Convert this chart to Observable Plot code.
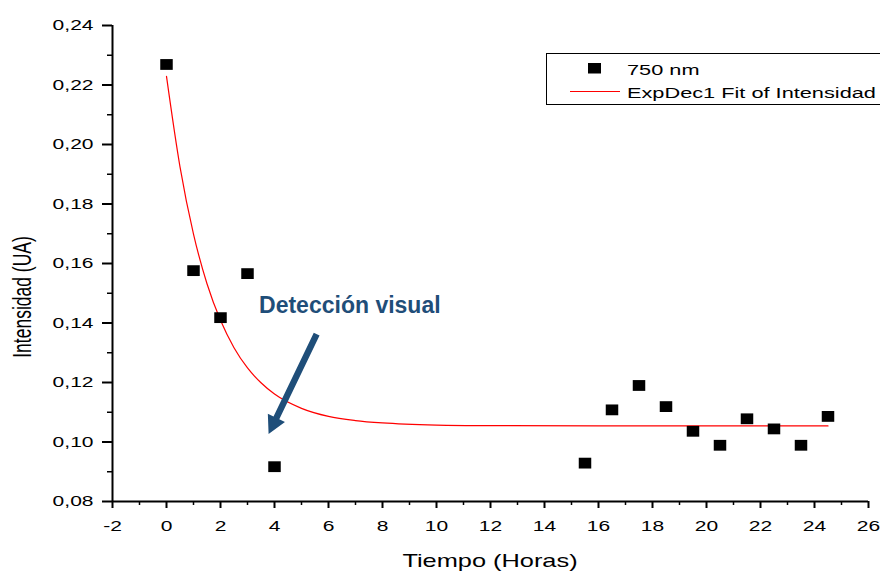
<!DOCTYPE html>
<html><head><meta charset="utf-8">
<script src="https://cdn.jsdelivr.net/npm/d3@7"></script>
<script src="https://cdn.jsdelivr.net/npm/@observablehq/plot@0.6"></script>
<style>
html,body{margin:0;padding:0;background:#fff;overflow:hidden;}
#chart{position:relative;width:880px;height:571px;overflow:hidden;}
</style></head><body><div id="chart"></div>
<script>
// Measured points (750 nm)
const hours = [0, 1, 2, 3, 4, 15.5, 16.5, 17.5, 18.5, 19.5, 20.5, 21.5, 22.5, 23.5, 24.5];
const intensity = [0.2269, 0.1576, 0.1418, 0.1566, 0.0917, 0.0929, 0.1108, 0.1190, 0.1119, 0.1036, 0.0989, 0.1078, 0.1044, 0.0989, 0.1086];
// ExpDec1 fit curve
const fitHours = [0, 0.5, 1, 1.5, 2, 2.5, 3, 3.5, 4, 5, 6, 7, 8, 10, 12, 16, 20, 24.5];
const fitIntensity = [0.2229, 0.1925, 0.1699, 0.1532, 0.1409, 0.1317, 0.1249, 0.1199, 0.1161, 0.1113, 0.1086, 0.1072, 0.1064, 0.1057, 0.1055, 0.1054, 0.1054, 0.1054];
// Ticks
const xMajorTicks = [-2, 0, 2, 4, 6, 8, 10, 12, 14, 16, 18, 20, 22, 24, 26];
const xMinorTicks = [-1, 1, 3, 5, 7, 9, 11, 13, 15, 17, 19, 21, 23, 25];
const yMajorTicks = [0.08, 0.10, 0.12, 0.14, 0.16, 0.18, 0.20, 0.22, 0.24];
const yMinorTicks = [0.09, 0.11, 0.13, 0.15, 0.17, 0.19, 0.21, 0.23];
// Texts
const xTitle = "Tiempo (Horas)";
const yTitle = "Intensidad (UA)";
const seriesLabels = ["750 nm", "ExpDec1 Fit of Intensidad"];
const annotationText = "Detección visual";
const annotationLabel = [{x: 6.79, y: 0.1459}];
const annotationArrow = [{x1: 5.58, y1: 0.1361, x2: 3.80, y2: 0.1025}];

const FONT = '"Liberation Sans", Arial, Helvetica, sans-serif';
const STRETCH = 1.45;
const rectSymbol = {draw(ctx) { const w = 12.5, h = 10.8; ctx.rect(-w / 2, -h / 2, w, h); }};
const comma = d => d.toFixed(2).replace(".", ",");

const plot = Plot.plot({
  width: 880, height: 571,
  marginLeft: 112, marginRight: 12, marginTop: 25, marginBottom: 70,
  x: {domain: [-2, 26]},
  y: {domain: [0.08, 0.24]},
  style: {fontFamily: FONT, fontSize: "14.5px", color: "#000", background: "#fff", overflow: "visible"},
  marks: [
    Plot.axisX({ticks: xMinorTicks, tickSize: 4, tickFormat: () => "", label: null, strokeWidth: 1.5}),
    Plot.axisY({ticks: yMinorTicks, tickSize: 5, tickFormat: () => "", label: null, strokeWidth: 1.5}),
    Plot.axisX({ticks: xMajorTicks, tickSize: 7, tickPadding: 12, tickFormat: d => String(d), label: null, strokeWidth: 2, fill: "#000"}),
    Plot.axisY({ticks: yMajorTicks, tickSize: 10, tickPadding: 9, tickFormat: comma, label: null, strokeWidth: 2, fill: "#000"}),
    Plot.ruleX([-2], {stroke: "#000", strokeWidth: 2}),
    Plot.ruleY([0.08], {stroke: "#000", strokeWidth: 2}),
    Plot.line(fitIntensity, {x: fitHours, y: fitIntensity, curve: "monotone-x", stroke: "#ff0000", strokeWidth: 1.2}),
    Plot.dot(intensity, {x: hours, y: intensity, symbol: rectSymbol, fill: "#000", stroke: "none"}),
    Plot.text(annotationLabel, {x: "x", y: "y", text: () => annotationText, fontSize: 23, fontWeight: "bold", fill: "#1f4e79", textAnchor: "middle", lineAnchor: "middle"})
  ]
});

document.getElementById("chart").appendChild(plot);
const svg = d3.select(plot);

// horizontal stretch of tick labels (as in the reference)
svg.selectAll('g[aria-label$="tick label"] text').each(function () {
  const el = d3.select(this);
  const t = el.attr("transform") || "";
  const x = +(el.attr("x") || 0);
  el.attr("transform", `${t} translate(${x},0) scale(${STRETCH},1) translate(${-x},0)`);
});

// axis titles
svg.append("text").text(xTitle)
  .attr("font-family", FONT).attr("font-size", 17.5).attr("fill", "#000")
  .attr("text-anchor", "middle")
  .attr("transform", `translate(490,567) scale(${STRETCH},1)`);
svg.append("text").text(yTitle)
  .attr("font-family", FONT).attr("font-size", 17.5).attr("fill", "#000")
  .attr("text-anchor", "middle").attr("dy", "0.35em")
  .attr("transform", `translate(22,297) scale(${STRETCH},1) rotate(-90)`);

// annotation arrow via the plot's scales
const sx = plot.scale("x"), sy = plot.scale("y");
annotationArrow.forEach(a => {
  const S = [sx.apply(a.x1), sy.apply(a.y1)], T = [sx.apply(a.x2), sy.apply(a.y2)];
  const dx = T[0] - S[0], dy = T[1] - S[1], L = Math.hypot(dx, dy);
  const u = [dx / L, dy / L], n = [-u[1], u[0]];
  const hl = 18, hw = 9.5, sw = 3.2;
  const B = [T[0] - u[0] * hl, T[1] - u[1] * hl];
  const p = (P, k) => [P[0] + n[0] * k, P[1] + n[1] * k];
  const pts = [p(S, sw), p(B, sw), p(B, hw), T, p(B, -hw), p(B, -sw), p(S, -sw)];
  svg.append("path").attr("d", "M" + pts.map(q => q.join(",")).join("L") + "Z").attr("fill", "#1f4e79");
});

// legend
const lg = svg.append("g").attr("font-family", FONT).attr("font-size", 15).attr("fill", "#000").attr("text-anchor", "start");
lg.append("rect").attr("x", 546.5).attr("y", 53.5).attr("width", 420).attr("height", 51)
  .attr("fill", "#fff").attr("stroke", "#000").attr("stroke-width", 1);
lg.append("rect").attr("x", 588).attr("y", 63).attr("width", 13).attr("height", 10.5).attr("fill", "#000");
lg.append("text").text(seriesLabels[0]).attr("text-anchor", "start").attr("transform", `translate(627,75) scale(${STRETCH},1)`);
lg.append("line").attr("x1", 570).attr("x2", 620).attr("y1", 91.5).attr("y2", 91.5).attr("stroke", "#ff0000").attr("stroke-width", 1.2);
lg.append("text").text(seriesLabels[1]).attr("text-anchor", "start").attr("transform", `translate(627,98) scale(${STRETCH},1)`);
</script></body></html>
